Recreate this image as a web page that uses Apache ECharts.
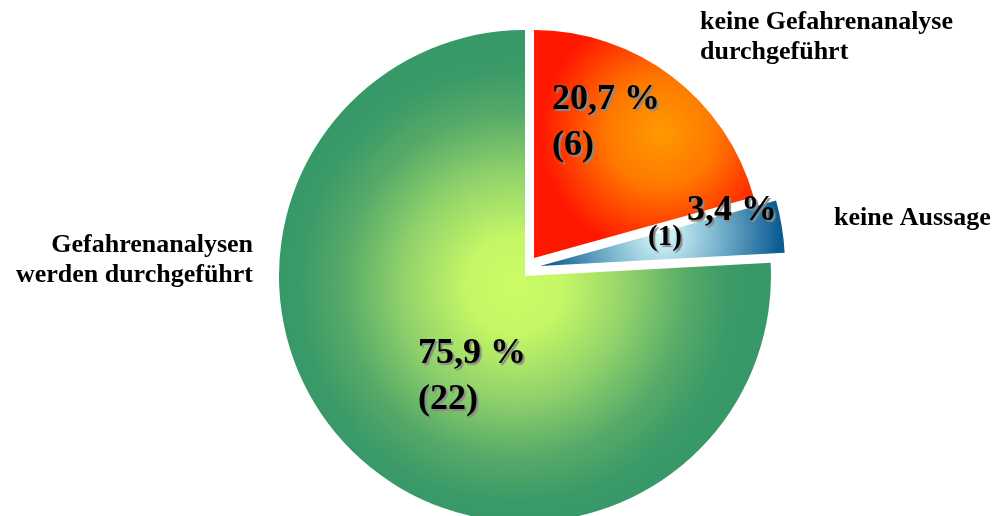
<!DOCTYPE html>
<html>
<head>
<meta charset="utf-8">
<script src="https://cdn.jsdelivr.net/npm/echarts@6/dist/echarts.min.js"></script>
<style>
  html, body { margin: 0; padding: 0; background: #fff; }
  #chartPie { width: 997px; height: 516px; }
</style>
</head>
<body>
<div id="chartPie"></div>
<script>
  // Daten
  var categories = ['keine Gefahrenanalyse\ndurchgeführt', 'keine Aussage', 'Gefahrenanalysen\nwerden durchgeführt'];
  var counts = [6, 1, 22];

  var serif = '"Liberation Serif", "Times New Roman", serif';
  var total = counts.reduce(function (a, b) { return a + b; }, 0);

  function pct(v) {
    return (v / total * 100).toFixed(1).replace('.', ',') + ' %';
  }

  var fills = [
    { type: 'radial', x: 0.58, y: 0.45, r: 0.55, colorStops: [
      { offset: 0, color: '#ff9a00' }, { offset: 0.45, color: '#ff7800' }, { offset: 1, color: '#ff1800' }] },
    { type: 'radial', x: 0.5, y: 0.5, r: 1.8, colorStops: [
      { offset: 0, color: '#dcfcfe' }, { offset: 0.45, color: '#7fb8d0' }, { offset: 1, color: '#0b5c93' }] },
    { type: 'radial', x: 0.48, y: 0.52, r: 0.5, colorStops: [
      { offset: 0, color: '#ccfc66' }, { offset: 0.2, color: '#c4f666' }, { offset: 0.47, color: '#8ed06b' },
      { offset: 0.7, color: '#56aa68' }, { offset: 0.88, color: '#3a9a68' }, { offset: 1, color: '#379868' }] }
  ];

  // jedes Segment als eigene Serie, damit die Explosion frei verschoben werden kann
  var centers = [[534, 258], [540, 266], [525, 276]];
  var radii = [228, 245, 246];
  var labelPos = [[552, 77], [648, 197], [418, 331]];

  var shadow = { textShadowColor: '#8a8a8a', textShadowOffsetX: 2, textShadowOffsetY: 2, textShadowBlur: 1 };
  function txt(size, lh, extra) {
    var s = { fontFamily: serif, fontWeight: 'bold', fontSize: size, lineHeight: lh, color: '#000' };
    Object.keys(shadow).forEach(function (k) { s[k] = shadow[k]; });
    Object.keys(extra || {}).forEach(function (k) { s[k] = extra[k]; });
    return s;
  }
  var richText = {
    p: txt(36, 46),
    n: txt(36, 46),
    bp: txt(36, 27, { padding: [0, 0, 0, 39] }),
    bn: txt(29, 27)
  };

  function sliceSeries(idx) {
    return {
      type: 'pie',
      silent: true,
      startAngle: 90,
      clockwise: true,
      center: centers[idx],
      radius: [0, radii[idx]],
      percentPrecision: 1,
      avoidLabelOverlap: false,
      labelLine: { show: false },
      label: {
        show: true,
        position: 'inside',
        align: 'left',
        rich: richText,
        formatter: function (p) {
          if (p.dataIndex === 1) {
            return '{bp|' + pct(p.value) + '}\n{bn|(' + p.value + ')}';
          }
          return '{p|' + pct(p.value) + '}\n{n|(' + p.value + ')}';
        }
      },
      labelLayout: function () {
        return { x: labelPos[idx][0], y: labelPos[idx][1], align: 'left', verticalAlign: 'top' };
      },
      data: counts.map(function (v, j) {
        var item = { name: categories[j], value: v };
        if (j === idx) {
          item.itemStyle = { color: fills[j] };
        } else {
          item.itemStyle = { color: 'rgba(0,0,0,0)' };
          item.label = { show: false };
        }
        return item;
      })
    };
  }

  // Beschriftungen außerhalb
  var namePos = [
    { x: 700, y: 7, align: 'left' },
    { x: 834, y: 203, align: 'left' },
    { x: 253, y: 230, align: 'right' }
  ];

  var chart = echarts.init(document.getElementById('chartPie'));
  chart.setOption({
    animation: false,
    backgroundColor: '#fff',
    graphic: categories.map(function (c, i) {
      return {
        type: 'text',
        left: namePos[i].align === 'left' ? namePos[i].x : null,
        right: namePos[i].align === 'right' ? 997 - namePos[i].x : null,
        top: namePos[i].y,
        style: {
          text: c,
          fill: '#000',
          font: 'bold 26px ' + serif,
          textAlign: namePos[i].align,
          lineHeight: 30
        }
      };
    }),
    series: [sliceSeries(0), sliceSeries(1), sliceSeries(2)]
  });
</script>
</body>
</html>
